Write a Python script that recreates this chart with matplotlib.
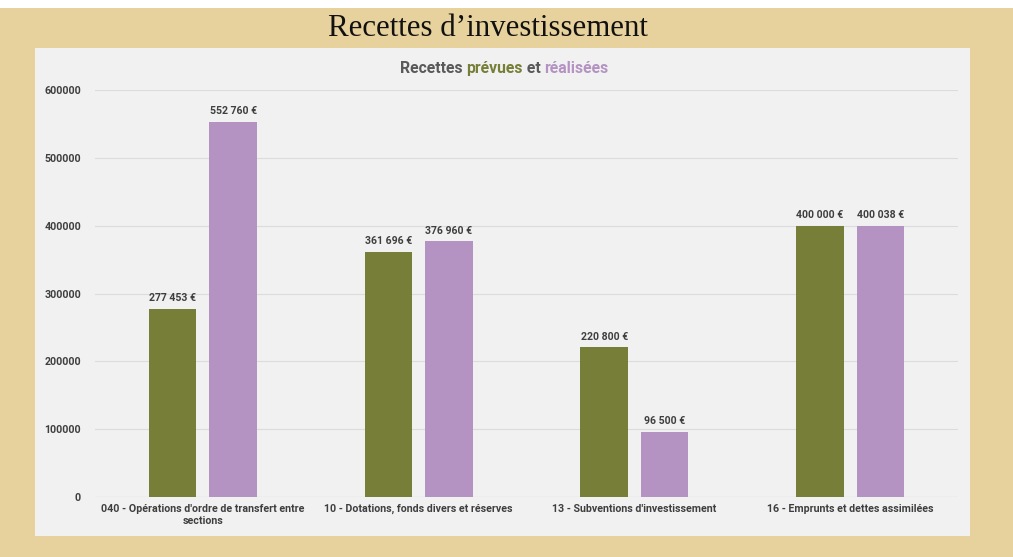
import matplotlib.pyplot as plt
import numpy as np
from matplotlib.patches import Rectangle

categories = ["040 - Opérations d'ordre de transfert entre\nsections",
              "10 - Dotations, fonds divers et réserves",
              "13 - Subventions d'investissement",
              "16 - Emprunts et dettes assimilées"]
prevues = [277453, 361696, 220800, 400000]
realisees = [552760, 376960, 96500, 400038]
yticks = [0, 100000, 200000, 300000, 400000, 500000, 600000]

green = "#767E37"
purple = "#B493C2"
grey_txt = "#595959"

plt.rcParams['font.family'] = ['Roboto', 'DejaVu Sans']

fig = plt.figure(figsize=(10.13, 5.57), dpi=100)
fig.patch.set_facecolor("#E7D19C")

# white band at the very top and the grey chart panel
fig.add_artist(Rectangle((0, 1 - 8 / 557), 1, 8 / 557, transform=fig.transFigure,
                         facecolor="white", edgecolor="none", zorder=0))
fig.add_artist(Rectangle((35 / 1013, 1 - 536 / 557), 935 / 1013, 488 / 557,
                         transform=fig.transFigure, facecolor="#F1F1F1",
                         edgecolor="none", zorder=0))

fig.text(488 / 1013, 1 - 28 / 557, "Recettes d\u2019investissement", ha="center", va="center",
         fontsize=22.2, family="Liberation Serif", color="#111111")

ax = fig.add_axes([95 / 1013, 1 - 497 / 557, 863 / 1013, 407 / 557])
ax.set_facecolor("none")

x = np.arange(len(categories))
w = 0.22
b1 = ax.bar(x - w / 2 - 0.03, prevues, w, color=green, zorder=3)
b2 = ax.bar(x + w / 2 + 0.03, realisees, w, color=purple, zorder=3)

def fmt(v):
    return f"{v:,}".replace(",", " ") + " \u20ac"

for bars, vals in ((b1, prevues), (b2, realisees)):
    for r, v in zip(bars, vals):
        ax.annotate(fmt(v), (r.get_x() + r.get_width() / 2, v), xytext=(0, 4),
                    textcoords="offset points", ha="center", va="bottom",
                    fontsize=7.6, fontweight="bold", color="#3F3F3F")

ax.set_xlim(-0.5, 3.5)
ax.set_ylim(0, 600000)
ax.set_yticks(yticks)
ax.set_yticklabels([str(t) for t in yticks])
ax.set_xticks(x)
ax.set_xticklabels(categories, linespacing=1.3)
ax.grid(axis="y", color="#DCDCDC", linewidth=0.8, zorder=0)
ax.tick_params(length=0, labelsize=7.7, colors="#3F3F3F", pad=5)
for t in ax.get_xticklabels() + ax.get_yticklabels():
    t.set_fontweight("bold")
ax.tick_params(axis="y", pad=10)
for s in ax.spines.values():
    s.set_visible(False)
ax.axhline(0, color="#D0D0D0", linewidth=0.8, zorder=2)

# multicolor subtitle
parts = [("Recettes ", grey_txt), ("prévues", green), (" et ", grey_txt), ("réalisées", purple)]
fig.canvas.draw()
r = fig.canvas.get_renderer()
texts = []
for s, c in parts:
    t = fig.text(0, 1 - 68 / 557, s, fontsize=11.3, fontweight="bold", color=c, va="center")
    texts.append(t)
total = sum(t.get_window_extent(r).width for t in texts)
xpos = 504 - total / 2
for t in texts:
    t.set_x(xpos / 1013)
    xpos += t.get_window_extent(r).width

fig.savefig("out.png", dpi=100)
